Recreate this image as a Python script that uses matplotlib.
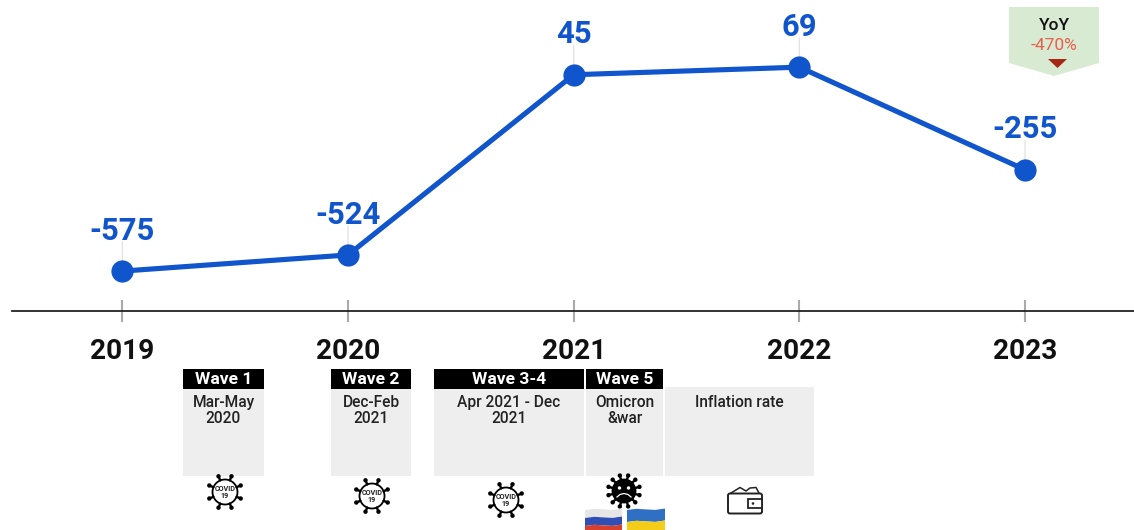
import numpy as np
import matplotlib
matplotlib.use("Agg")
import matplotlib.pyplot as plt
from matplotlib.patches import Circle, Polygon, Rectangle, FancyBboxPatch

plt.rcParams['font.family'] = ['Roboto', 'DejaVu Sans']

years = ['2019', '2020', '2021', '2022', '2023']
values = [-575, -524, 45, 69, -255]
value_labels = ['-575', '-524', '45', '69', '-255']

headers = ['Wave 1', 'Wave 2', 'Wave 3-4', 'Wave 5']
periods = ['Mar-May\n2020', 'Dec-Feb\n2021', 'Apr 2021 - Dec\n2021', 'Omicron\n&war']
yoy_title = 'YoY'
yoy_change = '-470%'
inflation_label = 'Inflation rate'

BLUE = '#1155cc'
W, H = 1134, 530

fig = plt.figure(figsize=(W / 100, H / 100), dpi=100)

# main chart, y range picked so the baseline sits under the labels
top_px, base_px, left_px = 0, 311, 12
ax = fig.add_axes([left_px / W, 1 - base_px / H, 1 - left_px / W, (base_px - top_px) / H])
x = np.arange(len(years))
ax.set_xlim(-0.489, 4.483)
ax.set_ylim(-701, 281)
for s in ['top', 'right', 'left']:
    ax.spines[s].set_visible(False)
ax.spines['bottom'].set_color('#222222')
ax.spines['bottom'].set_linewidth(1.3)
ax.set_yticks([])
ax.set_xticks(x)
ax.set_xticklabels(years, fontsize=20.2, fontweight='bold', color='#111111')
ax.tick_params(axis='x', direction='inout', length=16, width=1.5, color='#aaaaaa', pad=11.3)
ax.patch.set_alpha(0)

ax.plot(x, values, color=BLUE, linewidth=3.7, marker='o', markersize=16, markeredgewidth=0,
        clip_on=False, zorder=3)
for i, v in enumerate(values):
    ax.annotate('', xy=(i, v), xytext=(0, 21), textcoords='offset points',
                arrowprops=dict(arrowstyle='-', color='#e4e4e4', lw=1, shrinkA=0, shrinkB=0), zorder=1)
    ax.annotate(value_labels[i], xy=(i, v), xytext=(0, 29), textcoords='offset points',
                ha='center', va='center', fontsize=22.3, fontweight='bold', color=BLUE)

# overlay in pixel coordinates for the boxes and icons
ov = fig.add_axes([0, 0, 1, 1])
ov.set_xlim(0, W)
ov.set_ylim(H, 0)
ov.axis('off')
ov.patch.set_alpha(0)

box_lefts = [183, 331, 434, 586]
box_rights = [264, 411, 584, 663]
for i in range(len(headers)):
    l, r = box_lefts[i], box_rights[i]
    ov.add_patch(Rectangle((l, 389), r - l, 87, fc='#eeeeee', ec='none'))
    ov.add_patch(Rectangle((l, 369), r - l, 20, fc='black', ec='none'))
    ov.text((l + r) / 2, 380, headers[i], color='white', fontsize=12.6, fontweight='bold',
            ha='center', va='center')
    ov.text((l + r) / 2, 410.5, periods[i], color='#222222', fontsize=11.2, fontweight='medium',
            ha='center', va='center', linespacing=1.16)
ov.add_patch(Rectangle((665, 387), 149, 89, fc='#eeeeee', ec='none'))
ov.text(739.5, 402.5, inflation_label, color='#222222', fontsize=11.2, fontweight='medium',
        ha='center', va='center')


def virus(cx, cy, r, solid=False, spikes=8):
    # round body with stubby spikes
    step = 360 / spikes
    for a in np.deg2rad(np.arange(0, 360, step) + step / 2):
        ca, sa = np.cos(a), np.sin(a)
        ov.plot([cx + r * ca, cx + (r + 4) * ca], [cy + r * sa, cy + (r + 4) * sa],
                color='black', lw=1.7, solid_capstyle='round')
        ov.add_patch(Circle((cx + (r + 4.5) * ca, cy + (r + 4.5) * sa), 2.2, fc='black', ec='none'))
    ov.add_patch(Circle((cx, cy), r, fc='black' if solid else 'white', ec='black', lw=1.3))


for cx, cy in [(225, 492), (372, 496), (506, 500)]:
    virus(cx, cy, 12.5)
    ov.text(cx, cy + 0.6, 'COVID\n19', fontsize=5.2, fontweight='bold', ha='center', va='center',
            color='#222222', linespacing=0.95)

# dark virus with a sad face
virus(624, 491, 11.5, solid=True, spikes=12)
ov.add_patch(Circle((619.5, 488), 1.7, fc='white', ec='none'))
ov.add_patch(Circle((628.5, 488), 1.7, fc='white', ec='none'))
ov.plot([617, 620, 624, 628, 631], [497, 494.5, 493.5, 494.5, 497], color='white', lw=0.9)


def flag(left, right, top, colors):
    # slightly waving stripes, cut off by the figure edge
    xs = np.array([0, 0.25, 0.5, 0.75, 1.0])
    wave = np.array([1.5, 0.3, 0.9, 1.4, 0.0])
    px = left + xs * (right - left)
    n = len(colors)
    for k, c in enumerate(colors):
        y0 = top + wave + k * 24 / n
        y1 = top + wave + (k + 1) * 24 / n
        ov.add_patch(Polygon(np.r_[np.c_[px, y0], np.c_[px[::-1], y1[::-1]]], fc=c, ec='none'))


flag(585, 622, 508.5, ['#e6e6e6', '#2f4fb4', '#d8402e'])
flag(627, 665, 508.5, ['#2f6fc4', '#f4cd1a'])

# wallet
ov.add_patch(FancyBboxPatch((728, 493.5), 34, 20, boxstyle='round,pad=0,rounding_size=2',
                            fc='white', ec='#222222', lw=1.4))
ov.plot([731, 740, 746, 750, 756, 759], [493, 487.5, 491, 488, 487.5, 493], color='#222222', lw=1.1)
ov.add_patch(Rectangle((748, 499), 14, 9, fc='white', ec='#222222', lw=1.3))
ov.add_patch(Circle((753, 503.5), 1.3, fc='#222222', ec='none'))

# YoY badge
ov.add_patch(Polygon([(1009, 7), (1099, 7), (1099, 63), (1054, 76), (1009, 63)], fc='#d9ead3', ec='none'))
ov.text(1054, 25.5, yoy_title, fontsize=12.5, fontweight='medium', color='#111111', ha='center', va='center')
ov.text(1054, 45, yoy_change, fontsize=12.5, color='#e8604c', ha='center', va='center')
ov.add_patch(Polygon([(1048, 59), (1067, 59), (1057.5, 68)], fc='#a52714', ec='none'))

fig.savefig('out.png', dpi=100)
